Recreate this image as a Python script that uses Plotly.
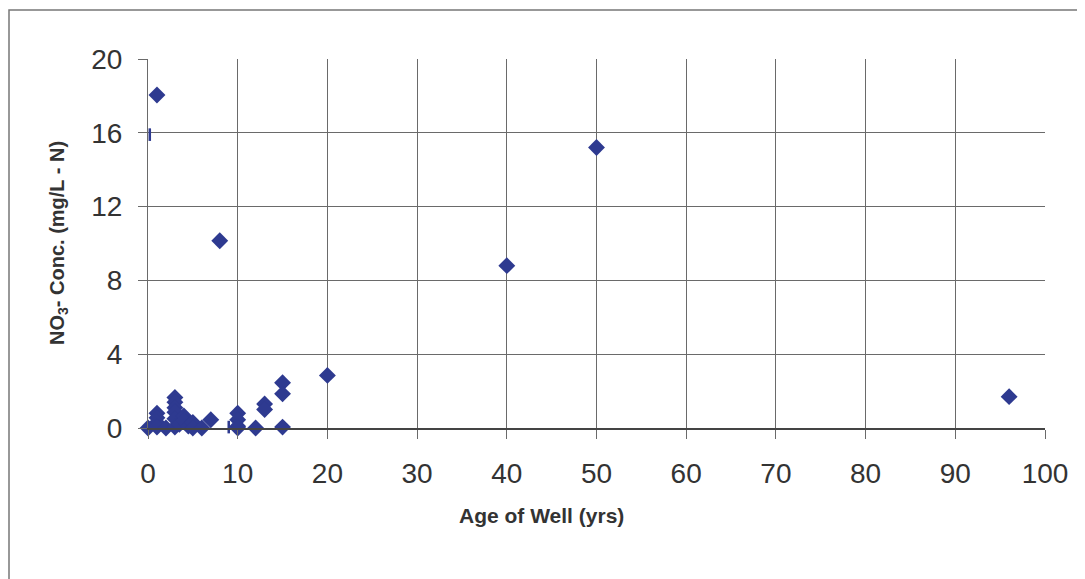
import plotly.graph_objects as go

# Age of well (yrs) and NO3- concentration (mg/L - N)
age_yrs = [0, 1, 1, 1, 1, 2, 3, 3, 3, 3, 3, 3, 3.5, 4, 4, 4.5, 5, 5, 6, 7,
           10, 10, 10, 10, 12, 13, 13, 15, 15, 15, 20, 1, 8, 40, 50, 96]
no3_conc = [0.0, 0.8, 0.55, 0.3, 0.05, 0.0, 1.65, 1.4, 1.1, 0.85, 0.5, 0.05, 0.2, 0.65, 0.4, 0.1, 0.3, 0.0, 0.0, 0.45,
            0.8, 0.45, 0.1, 0.0, 0.0, 1.3, 1.0, 2.45, 1.85, 0.05, 2.85, 18.05, 10.15, 8.8, 15.2, 1.7]

# second marker style (short vertical dashes)
dash_age = [0.2, 9]
dash_conc = [15.9, 0.05]

x_ticks = [0, 10, 20, 30, 40, 50, 60, 70, 80, 90, 100]
y_ticks = [0, 4, 8, 12, 16, 20]

blue = "#2E3A90"
grid = "#6a6a6a"
font_family = "Liberation Sans, Arial, sans-serif"

# page has an 8px body margin; plot area targeted at page x 148..1045, y 59..428
W, H = 1077, 571
L, T = 140, 51
R = (8 + W) - 1045
B = (8 + H) - 428
PW, PH = W - L - R, H - T - B


def px(xp):
    return (xp - 8 - L) / PW


def py(yp):
    return (H - B - (yp - 8)) / PH


fig = go.Figure()
fig.add_trace(go.Scatter(x=age_yrs, y=no3_conc, mode="markers",
                         marker=dict(symbol="diamond", size=13, color=blue),
                         showlegend=False, cliponaxis=False))
fig.add_trace(go.Scatter(x=dash_age, y=dash_conc, mode="markers",
                         marker=dict(symbol="line-ns", size=9, color=blue,
                                     line=dict(color=blue, width=2.5)),
                         showlegend=False, cliponaxis=False))

fig.update_layout(
    width=W, height=H,
    margin=dict(l=L, r=R, t=T, b=B),
    paper_bgcolor="white", plot_bgcolor="white",
    font=dict(family=font_family, color="#333333"),
    xaxis=dict(range=[0, 100], tickvals=x_ticks, showgrid=True, gridcolor=grid, gridwidth=1,
               ticks="outside", ticklen=9, tickcolor=grid, tickwidth=1,
               showline=True, linecolor="#444444", linewidth=1.5,
               zeroline=False, tickfont=dict(size=28, color="#333333"), ticklabelstandoff=11),
    yaxis=dict(range=[0, 20], tickvals=y_ticks, showgrid=True, gridcolor=grid, gridwidth=1,
               ticks="outside", ticklen=9, tickcolor=grid, tickwidth=1,
               showline=True, linecolor=grid, linewidth=1,
               zeroline=False, tickfont=dict(size=28, color="#333333"), ticklabelstandoff=10),
    annotations=[
        dict(text="<b>Age of Well (yrs)</b>", xref="paper", yref="paper",
             x=px(541), y=py(515), xanchor="center", yanchor="middle",
             showarrow=False, font=dict(size=21, color="#333333")),
        dict(text="<b>NO<sub>3</sub>- Conc. (mg/L - N)</b>", xref="paper", yref="paper",
             x=px(58), y=py(243), xanchor="center", yanchor="middle",
             textangle=-90, showarrow=False, font=dict(size=20, color="#333333")),
    ],
    shapes=[
        dict(type="rect", xref="paper", yref="paper",
             x0=px(9), x1=px(1100), y0=py(620), y1=py(10),
             line=dict(color="#777777", width=1.5), fillcolor="rgba(0,0,0,0)", layer="below"),
    ],
)

fig.write_html("out.html")
